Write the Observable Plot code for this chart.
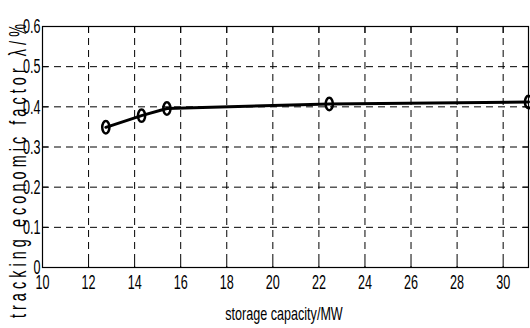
<!DOCTYPE html>
<html>
<head>
<meta charset="utf-8">
<script src="https://cdn.jsdelivr.net/npm/d3@7"></script>
<script src="https://cdn.jsdelivr.net/npm/@observablehq/plot@0.6"></script>
<style>
  html, body { margin: 0; padding: 0; background: #fff; }
  svg { display: block; }
</style>
</head>
<body>
<div id="chart"></div>
<script>
const capacity = [12.75, 14.3, 15.4, 22.45, 31.1];
const factor = [0.349, 0.378, 0.396, 0.407, 0.412];
const xTicks = [10, 12, 14, 16, 18, 20, 22, 24, 26, 28, 30];
const yTicks = [0, 0.1, 0.2, 0.3, 0.4, 0.5, 0.6];
const yTickLabels = ["0", "0.1", "0.2", "0.3", "0.4", "0.5", "0.6"];
const xLabel = "storage capacity/MW";
const yLabel = "tracking economic factor \u03bb/%";

const data = capacity.map((x, i) => ({x, y: factor[i]}));

// ellipse marker (taller than wide), like the reference
const ellipse = {
  draw(ctx, size) {
    const rx = 3.6, ry = 6.2, k = 0.5523;
    ctx.moveTo(rx, 0);
    ctx.bezierCurveTo(rx, ry * k, rx * k, ry, 0, ry);
    ctx.bezierCurveTo(-rx * k, ry, -rx, ry * k, -rx, 0);
    ctx.bezierCurveTo(-rx, -ry * k, -rx * k, -ry, 0, -ry);
    ctx.bezierCurveTo(rx * k, -ry, rx, -ry * k, rx, 0);
    ctx.closePath();
  }
};

const dash = "7,5";
const chart = Plot.plot({
  width: 530,
  height: 328,
  marginLeft: 42,
  marginRight: 2,
  marginTop: 26,
  marginBottom: 61,
  style: {fontFamily: "'Liberation Sans', Arial, sans-serif", fontSize: "21px", color: "black", background: "white"},
  x: {domain: [10, 31.1]},
  y: {domain: [0, 0.6]},
  marks: [
    Plot.gridX(xTicks, {stroke: "black", strokeOpacity: 1, strokeWidth: 1, strokeDasharray: dash}),
    Plot.gridY(yTicks, {stroke: "black", strokeOpacity: 1, strokeWidth: 1, strokeDasharray: dash}),
    Plot.axisX(xTicks, {anchor: "bottom", tickSize: -6, tickPadding: 13, label: null, fontSize: 21}),
    Plot.axisX(xTicks, {anchor: "top", tickSize: -6, tickFormat: () => "", label: null}),
    Plot.axisY(yTicks, {anchor: "left", tickSize: -6, tickPadding: 8, label: null, fontSize: 21,
      tickFormat: (d) => yTickLabels[yTicks.indexOf(d)]}),
    Plot.axisY(yTicks, {anchor: "right", tickSize: -6, tickFormat: () => "", label: null}),
    Plot.frame({stroke: "black", strokeWidth: 1.2}),
    Plot.line(data, {x: "x", y: "y", stroke: "black", strokeWidth: 3}),
    Plot.dot(data, {x: "x", y: "y", symbol: ellipse, r: 5, stroke: "black", strokeWidth: 2.5, fill: "none"})
  ]
});

const svg = d3.select(chart);
// condensed tick labels
svg.selectAll('g[aria-label="x-axis tick label"], g[aria-label="y-axis tick label"]')
  .attr("font-size", 21).style("font-size", "21px");
svg.selectAll('g[aria-label="x-axis tick label"] text, g[aria-label="y-axis tick label"] text')
  .attr("transform", function () { return (this.getAttribute("transform") || "") + " scale(0.6,1)"; });

// x axis label
svg.append("text")
  .attr("transform", "translate(284,320) scale(0.7,1)")
  .attr("text-anchor", "middle")
  .attr("font-size", 18)
  .attr("fill", "black")
  .text(xLabel);

// y axis label: rotated and spaced
svg.append("text")
  .attr("transform", "translate(26,169) rotate(-90) scale(0.63,1)")
  .attr("text-anchor", "middle")
  .attr("font-size", 23)
  .attr("letter-spacing", 6.4)
  .attr("fill", "black")
  .text(yLabel);

document.getElementById("chart").appendChild(chart);
</script>
</body>
</html>
